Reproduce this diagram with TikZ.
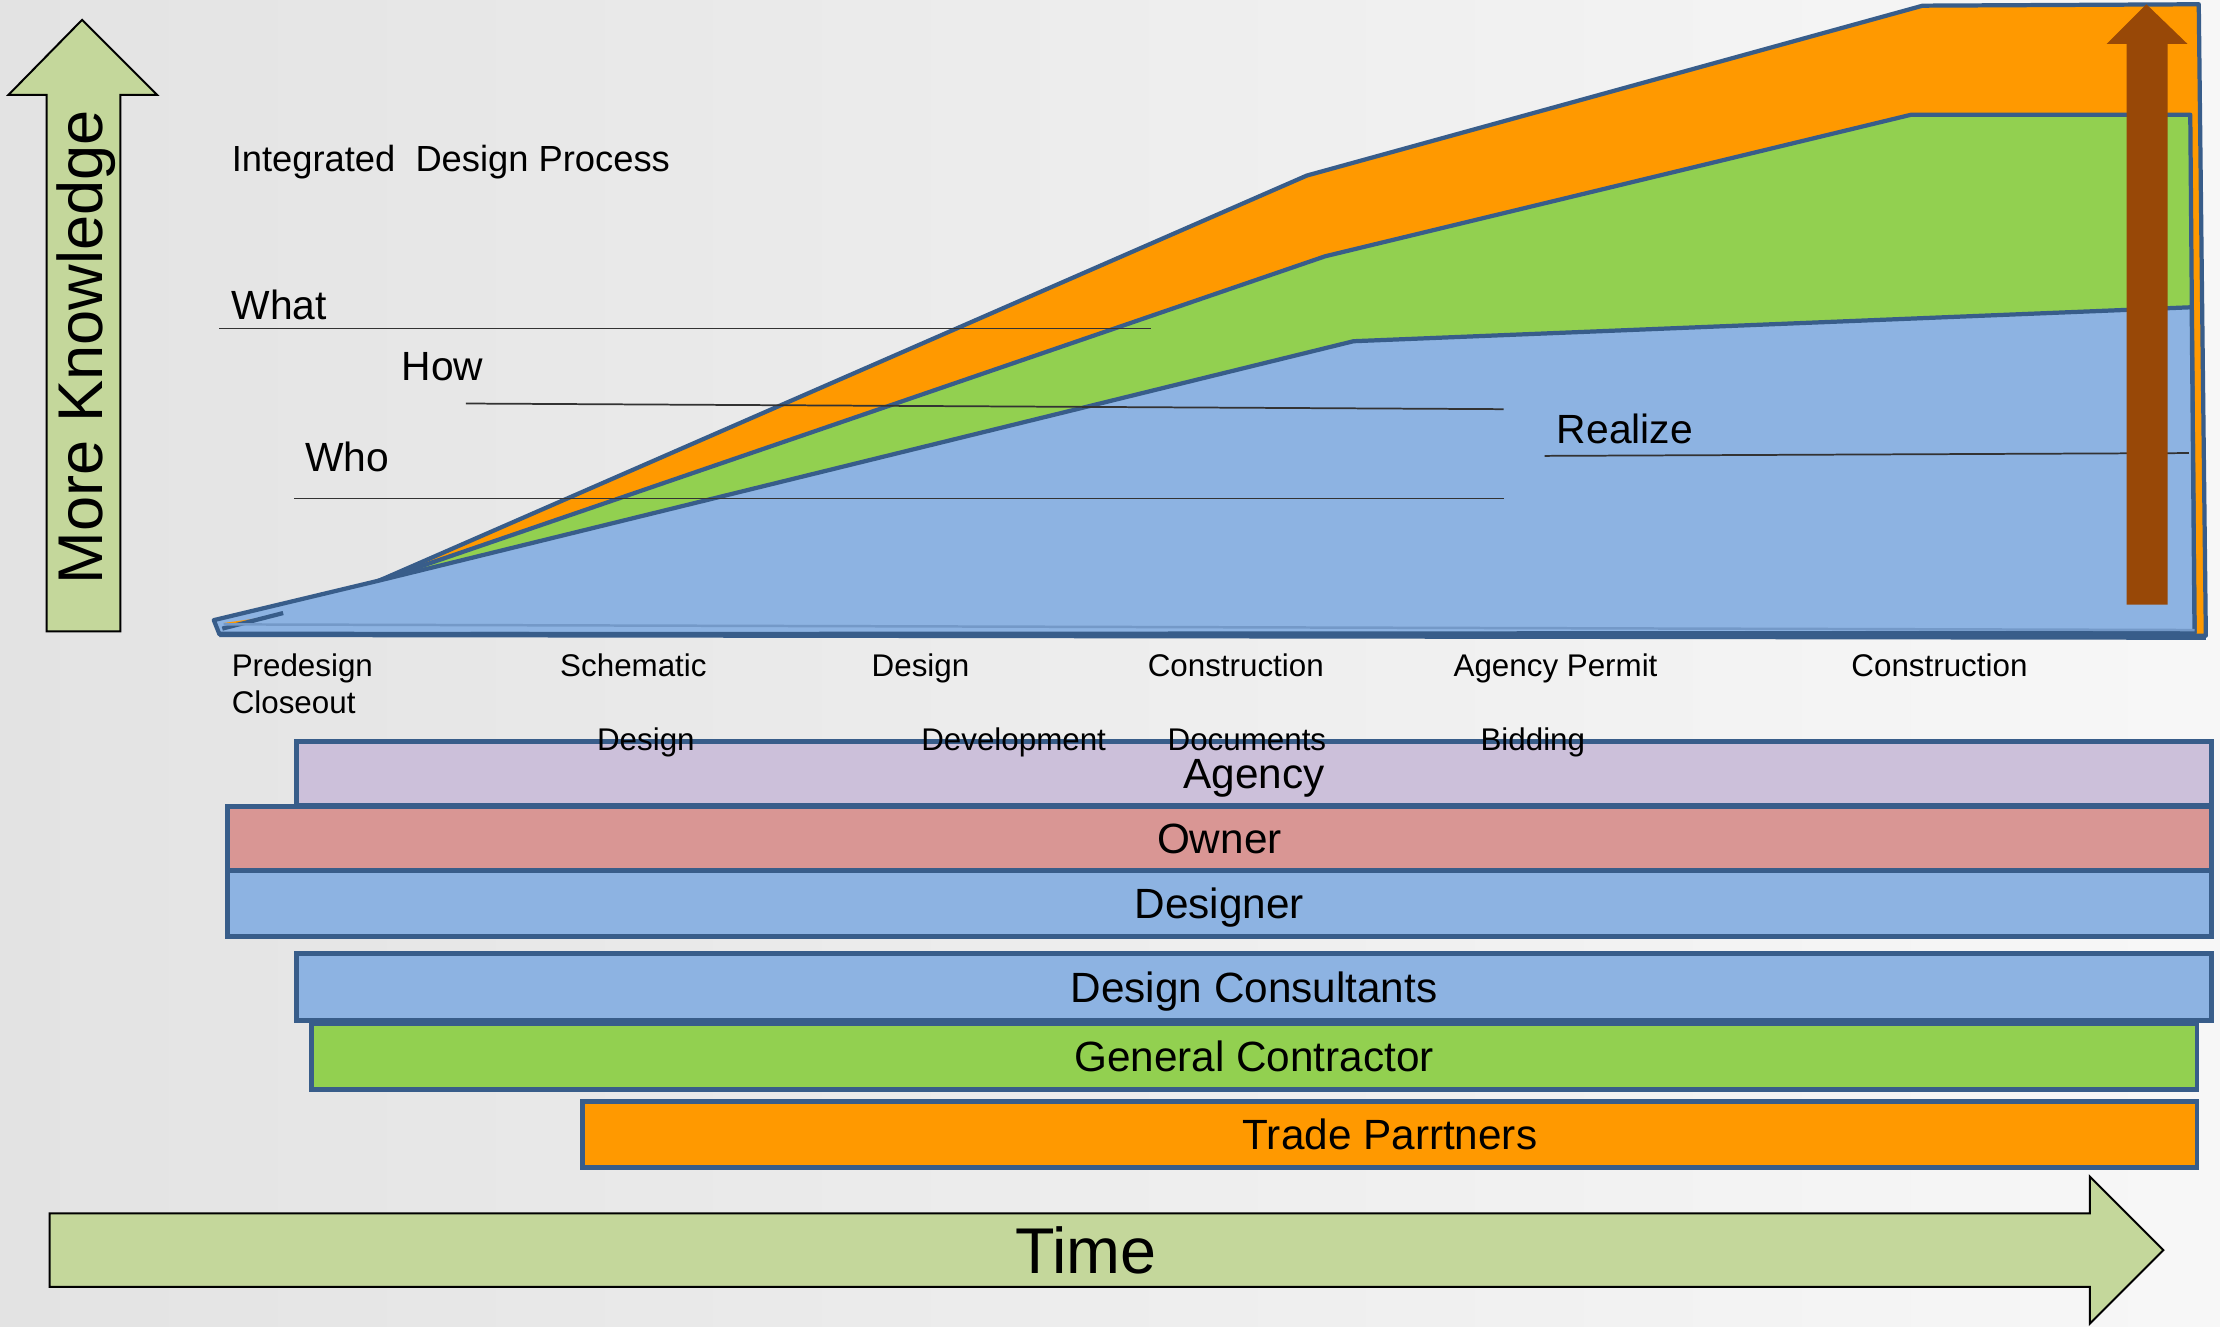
\documentclass[tikz,border=0pt]{standalone}
\usepackage{fontspec}
\setmainfont{Liberation Sans}
\definecolor{edgeblue}{RGB}{56,93,138}
\definecolor{areablue}{RGB}{141,179,226}
\definecolor{areagreen}{RGB}{146,208,80}
\definecolor{areaorange}{RGB}{255,153,0}
\definecolor{arrowgreen}{RGB}{196,215,155}
\definecolor{lavender}{RGB}{204,192,218}
\definecolor{rose}{RGB}{217,150,148}
\definecolor{rustbrown}{RGB}{152,72,7}
\begin{document}
\begin{tikzpicture}[
                    x=0.1mm, y=-0.1mm,
                    area/.style={draw=edgeblue, line width=0.85pt, line join=round},
                    bar/.style={draw=edgeblue, line width=1pt, rectangle, anchor=north west, inner sep=0pt, text height=6.1pt, text depth=0pt, font=\fontsize{8.5}{10}\selectfont},
                    phase/.style={anchor=base west, inner sep=0pt, font=\fontsize{6.3}{7}\selectfont},
                    tag/.style={anchor=base west, inner sep=0pt, font=\fontsize{8.2}{10}\selectfont},
                    rule/.style={draw=black!80, line width=0.35pt},
                    bigarrow/.style={draw=black, line width=0.4pt, fill=arrowgreen}
                    ]

                    \useasboundingbox (0,0) rectangle (1568,937);
                    \shade[left color=black!11, right color=black!3] (0,0) rectangle (1568,937);

                    % knowledge and time arrows
                    \draw[bigarrow] (33,446) -- (33,67) -- (6,67) -- (58,14) -- (111,67) -- (85,67) -- (85,446) -- cycle;
                    \node [rotate=90, font=\fontsize{12.7}{15}\selectfont] (knowledge) at (61,245) {More Knowledge};
                    \draw[bigarrow] (35,857) -- (1476,857) -- (1476,831) -- (1528,883) -- (1476,935) -- (1476,909) -- (35,909) -- cycle;
                    \node [font=\fontsize{13}{15}\selectfont] (time) at (767,883) {Time};

                    % stacked areas
                    \filldraw[area, fill=areaorange] (200,433) -- (268,410) -- (923,124) -- (1358,4) -- (1553,3) -- (1558,449) -- (155,448) -- cycle;
                    \filldraw[area, fill=areagreen] (268,410) -- (936,181) -- (1350,81) -- (1547,81) -- (1550,447) -- (268,447) -- cycle;
                    \filldraw[area, fill=areablue] (151,438) -- (268,410) -- (956,241) -- (1548,217) -- (1550,447) -- (155,448) -- cycle;
                    \fill[areaorange] (158,440) -- (194,435) -- (164,443) -- cycle;
                    \draw[area] (200,433) -- (157,444);
                    \draw[areablue!70!edgeblue, line width=0.5pt] (158,441) -- (1550,445);
                    \draw[draw=edgeblue, line width=1.1pt] (155,448) -- (1558,450);

                    % labels on the chart
                    \node [anchor=base west, inner sep=0pt, font=\fontsize{7.3}{9}\selectfont] (title) at (163,121) {Integrated\ \ Design Process};
                    \node [tag] (what) at (163,226) {What};
                    \node [tag] (how) at (283,269) {How};
                    \node [tag] (who) at (215,333) {Who};
                    \node [tag] (realize) at (1099,313) {Realize};

                    \coordinate (whatA) at (155,232);
                    \coordinate (whatB) at (813,232);
                    \coordinate (howA) at (329,285);
                    \coordinate (howB) at (1062,289);
                    \coordinate (whoA) at (208,352);
                    \coordinate (whoB) at (1062,352);
                    \coordinate (realizeA) at (1091,322);
                    \coordinate (realizeB) at (1546,320);
                    \draw[rule] (whatA) -- (whatB);
                    \draw[rule] (howA) -- (howB);
                    \draw[rule] (whoA) -- (whoB);
                    \draw[rule] (realizeA) -- (realizeB);

                    \fill[rustbrown] (1502,427) -- (1502,31) -- (1488,31) -- (1516,3) -- (1545,31) -- (1531,31) -- (1531,427) -- cycle;

                    % team bars
                    \node [bar, fill=lavender, minimum width=135.2mm, minimum height=4.5mm] (agency) at (208,522) {Agency};
                    \node [bar, fill=rose, minimum width=140.1mm, minimum height=4.5mm] (owner) at (159,568) {Owner};
                    \node [bar, fill=areablue, minimum width=140.1mm, minimum height=4.7mm] (designer) at (159,613) {Designer};
                    \node [bar, fill=areablue, minimum width=135.2mm, minimum height=4.7mm] (consultants) at (208,672) {Design Consultants};
                    \node [bar, fill=areagreen, minimum width=133.2mm, minimum height=4.7mm] (contractor) at (218,721) {General Contractor};
                    \node [bar, fill=areaorange, minimum width=114mm, minimum height=4.7mm] (trades) at (410,776) {Trade Parrtners};

                    % phases
                    \node [phase] (predesign) at (163,478) {Predesign};
                    \node [phase] (closeout) at (163,504) {Closeout};
                    \node [phase] (schematic) at (395,478) {Schematic};
                    \node [phase] (schematic2) at (421,530) {Design};
                    \node [phase] (develop) at (615,478) {Design};
                    \node [phase] (develop2) at (650,530) {Development};
                    \node [phase] (docs) at (810,478) {Construction};
                    \node [phase] (docs2) at (824,530) {Documents};
                    \node [phase] (permit) at (1026,478) {Agency Permit};
                    \node [phase] (permit2) at (1045,530) {Bidding};
                    \node [phase] (build) at (1307,478) {Construction};
\end{tikzpicture}
\end{document}
